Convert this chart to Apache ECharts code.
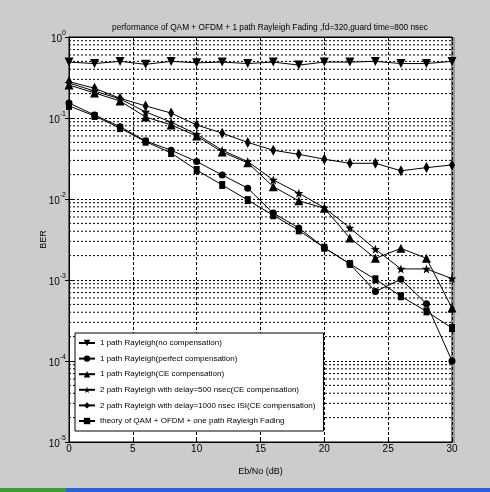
<!DOCTYPE html>
<html><head><meta charset="utf-8">
<script src="https://cdn.jsdelivr.net/npm/echarts@6/dist/echarts.min.js"></script>
<style>html,body{margin:0;padding:0;background:#cccccc;}#c{width:490px;height:492px;}</style>
</head><body><div id="c"></div>
<script>
// ---- data ----
var ebno = [0,2,4,6,8,10,12,14,16,18,20,22,24,26,28,30];
var noComp = [0.49,0.47,0.50,0.46,0.50,0.48,0.49,0.47,0.49,0.45,0.49,0.49,0.50,0.47,0.47,0.50];
var perfectComp = [0.153,0.109,0.078,0.052,0.040,0.029,0.0198,0.0136,0.0067,0.0044,0.0025,0.00158,0.00072,0.00102,0.00051,0.0001];
var ceComp = [0.255,0.204,0.162,0.103,0.082,0.060,0.038,0.028,0.0142,0.0095,0.0077,0.0033,0.00185,0.00246,0.00185,0.00045];
var delay500 = [0.27,0.215,0.172,0.119,0.089,0.063,0.040,0.029,0.0172,0.0118,0.0078,0.0044,0.0024,0.00137,0.00137,0.00104];
var delay1000 = [0.281,0.233,0.175,0.141,0.115,0.082,0.065,0.050,0.040,0.0356,0.031,0.0276,0.0276,0.0223,0.0244,0.0263];
var theory = [0.141,0.106,0.075,0.051,0.037,0.0228,0.0149,0.0097,0.0063,0.0041,0.0025,0.00158,0.00102,0.00063,0.00041,0.000255];
var seriesNames = [
  '1 path Rayleigh(no compensation)',
  '1 path Rayleigh(perfect compensation)',
  '1 path Rayleigh(CE compensation)',
  '2 path Rayleigh with delay=500 nsec(CE compensation)',
  '2 path Rayleigh with delay=1000 nsec ISI(CE compensation)',
  'theory of QAM + OFDM + one path Rayleigh Fading'
];
var titleText = 'performance of QAM + OFDM + 1 path Rayleigh Fading ,fd=320,guard time=800 nsec';
var xName = 'Eb/No (dB)';
var yName = 'BER';
var xRange = [0, 30];
var decadeExps = [-5,-4,-3,-2,-1];
var minorMults = [2,3,4,5,6,7,8,9];

// ---- chart ----
var FONT = "'Liberation Sans',Arial,sans-serif";
function pairs(arr){ return arr.map(function(v,i){ return [ebno[i], v]; }); }
var star = 'path://M0,-10 L2.35,-3.24 L9.51,-3.09 L3.8,1.24 L5.88,8.09 L0,4 L-5.88,8.09 L-3.8,1.24 L-9.51,-3.09 L-2.35,-3.24 Z';
var marks = [
  {symbol:'triangle', size:9, rotate:180},
  {symbol:'circle', size:7, rotate:0},
  {symbol:'triangle', size:9, rotate:0},
  {symbol:star, size:9, rotate:0},
  {symbol:'diamond', size:[6,11], rotate:0},
  {symbol:'rect', size:[6,8], rotate:0}
];
var datas = [noComp, perfectComp, ceComp, delay500, delay1000, theory];
var series = [];
// minor log grid lines (dotted), drawn through the axes
decadeExps.forEach(function(e){
  minorMults.forEach(function(m){
    var v = m*Math.pow(10,e);
    series.push({type:'line', data:[[xRange[0],v],[xRange[1],v]], symbol:'none', silent:true,
      animation:false, z:1, lineStyle:{color:'#000', type:[2,2], width:1}, emphasis:{disabled:true}, tooltip:{show:false}});
  });
});
datas.forEach(function(d,i){
  series.push({
    name: seriesNames[i], type:'line', data: pairs(d),
    symbol: marks[i].symbol, symbolSize: marks[i].size, symbolRotate: marks[i].rotate,
    showAllSymbol: true,
    lineStyle:{color:'#000', width:1}, itemStyle:{color:'#000'},
    emphasis:{disabled:true}, animation:false, z:3
  });
});
var chart = echarts.init(document.getElementById('c'), null, {renderer:'canvas'});
chart.setOption({
  backgroundColor:'#cccccc',
  animation:false,
  title:{text:titleText, left:265, top:19, textAlign:'center',
    textStyle:{fontFamily:FONT, fontSize:8.3, fontWeight:'normal', color:'#000'}},
  grid:{left:69, right:38, top:37, bottom:50, show:true, backgroundColor:'#fff', borderColor:'#000', borderWidth:1},
  legend:{orient:'vertical', left:75, top:333, padding:[4,8,4,3], itemGap:3.6,
    itemWidth:16, itemHeight:8, backgroundColor:'#fff', borderColor:'#000', borderWidth:1,
    textStyle:{fontFamily:FONT, fontSize:8, color:'#000', lineHeight:12},
    data:seriesNames, symbolRotate:'inherit'},
  xAxis:[{type:'value', min:xRange[0], max:xRange[1], interval:5, name:xName, nameLocation:'middle', nameGap:25,
    nameMoveOverlap:false,
    nameTextStyle:{fontFamily:FONT, fontSize:9, color:'#000'},
    axisLine:{lineStyle:{color:'#000'}}, axisTick:{inside:true, length:4, lineStyle:{color:'#000'}},
    axisLabel:{fontFamily:FONT, fontSize:10, color:'#000', margin:2},
    splitLine:{show:true, lineStyle:{color:'#000', type:[3,2], width:1}}},
    {type:'value', min:xRange[0], max:xRange[1], interval:5, position:'top', axisLine:{lineStyle:{color:'#000'}},
    axisTick:{inside:true, length:4, lineStyle:{color:'#000'}}, axisLabel:{show:false}, splitLine:{show:false}}],
  yAxis:[{type:'log', logBase:10, min:1e-5, max:1, name:yName, nameLocation:'middle', nameGap:21,
    nameMoveOverlap:false,
    nameTextStyle:{fontFamily:FONT, fontSize:9, color:'#000'},
    axisLine:{lineStyle:{color:'#000'}}, axisTick:{inside:true, length:4, lineStyle:{color:'#000'}},
    axisLabel:{margin:3, formatter:function(v){ var e=Math.round(Math.log10(v)); return '{b|10}{s|'+e+'}'; },
      rich:{b:{fontFamily:FONT, fontSize:10, color:'#000', lineHeight:14, verticalAlign:'bottom'},
            s:{fontFamily:FONT, fontSize:7, color:'#000', lineHeight:14, verticalAlign:'top'}}},
    splitLine:{show:true, lineStyle:{color:'#000', type:[2,2], width:1}}},
    {type:'log', logBase:10, min:1e-5, max:1, position:'right', axisLine:{lineStyle:{color:'#000'}},
    axisTick:{inside:true, length:4, lineStyle:{color:'#000'}}, axisLabel:{show:false}, splitLine:{show:false}}],
  graphic:[
    {type:'rect', left:452, top:37, shape:{width:3, height:406}, style:{fill:'#9a9a9a'}, silent:true},
    {type:'rect', left:0, top:488, shape:{width:66, height:4}, style:{fill:'#3f9a3a'}, silent:true},
    {type:'rect', left:66, top:488, shape:{width:424, height:4}, style:{fill:'#2c62d6'}, silent:true}
  ],
  series: series
});
</script></body></html>
